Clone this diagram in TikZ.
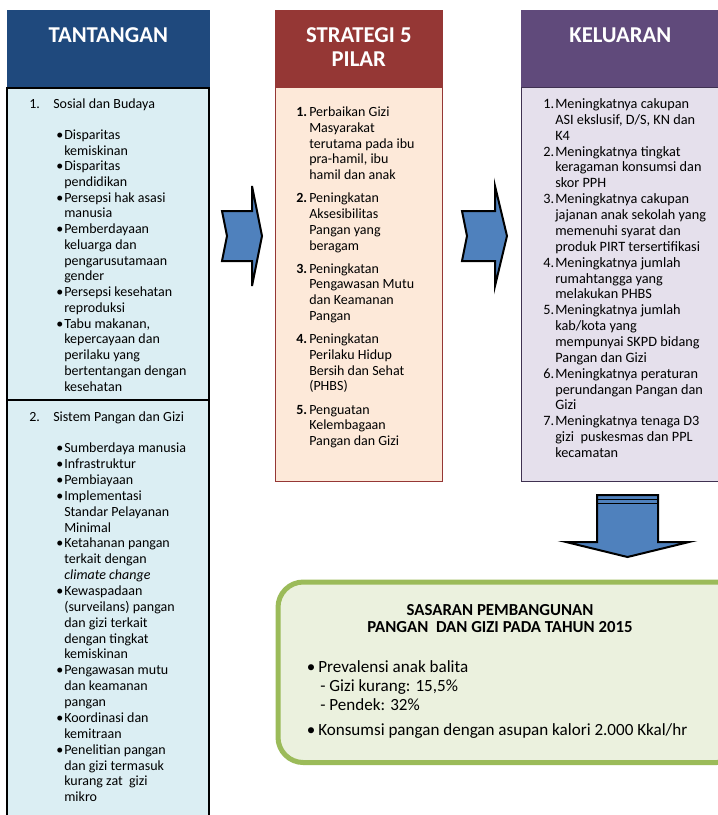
\documentclass[tikz,border=0pt]{standalone}
\usepackage{fontspec}
\setmainfont{Carlito}
\usetikzlibrary{positioning, calc}

\definecolor{tantblue}{HTML}{1F497D}
\definecolor{tantfill}{HTML}{DBEEF3}
\definecolor{stratred}{HTML}{953735}
\definecolor{stratfill}{HTML}{FDE9D9}
\definecolor{kelpurple}{HTML}{604A7B}
\definecolor{kelline}{HTML}{3F3151}
\definecolor{kelfill}{HTML}{E5E0EC}
\definecolor{sasgreen}{HTML}{9BBB59}
\definecolor{sasfill}{HTML}{EBF1DE}
\definecolor{arrblue}{HTML}{4F81BD}

\begin{document}
\begin{tikzpicture}[x=0.75pt, y=-0.75pt,
        headbox/.style={rectangle, anchor=north west, inner sep=0pt, text=white, align=center, font=\fontsize{17}{18.5}\selectfont\bfseries},
        bodybox/.style={rectangle, inner sep=0pt},
        txt/.style={anchor=base west, inner sep=0pt, font=\fontsize{10.5}{11.8}\selectfont},
        blockarr/.style={draw=black, line width=1.5pt, fill=arrblue, line join=miter},
    ]
    \useasboundingbox (0,0) rectangle (718,815);
    \clip (0,0) rectangle (718,815);

    % kolom tantangan
    \node[headbox, fill=tantblue, draw=tantblue, minimum width=151.5pt, text height=24pt, text depth=33pt] (tanthead) at (7,10) {TANTANGAN};
    \node[bodybox, draw=black, line width=1.5pt, fill=tantfill, minimum width=151.5pt, minimum height=570pt, below=0pt of tanthead] (tantbody) {};
    \draw[line width=1.5pt] (tantbody.west |- 0,400) -- (tantbody.east |- 0,400);

    \node[txt] (sosial) at (29,108.3) {\makebox[18pt][l]{1.}Sosial dan Budaya};
    \node[txt] (sosialpts) at (56,139.3) {\begin{tabular}[t]{@{}p{6pt}@{}l@{}}
        \textbullet & Disparitas\\ & kemiskinan\\
        \textbullet & Disparitas\\ & pendidikan\\
        \textbullet & Persepsi hak asasi\\ & manusia\\
        \textbullet & Pemberdayaan\\ & keluarga dan\\ & pengarusutamaan\\ & gender\\
        \textbullet & Persepsi kesehatan\\ & reproduksi\\
        \textbullet & Tabu makanan,\\ & kepercayaan dan\\ & perilaku yang\\ & bertentangan dengan\\ & kesehatan
    \end{tabular}};

    \node[txt] (sistem) at (29,421) {\makebox[18pt][l]{2.}Sistem Pangan dan Gizi};
    \node[txt, font=\fontsize{10.5}{11.9}\selectfont] (sistempts) at (56,452.7) {\begin{tabular}[t]{@{}p{6pt}@{}l@{}}
        \textbullet & Sumberdaya manusia\\
        \textbullet & Infrastruktur\\
        \textbullet & Pembiayaan\\
        \textbullet & Implementasi\\ & Standar Pelayanan\\ & Minimal\\
        \textbullet & Ketahanan pangan\\ & terkait dengan\\ & \textit{climate change}\\
        \textbullet & Kewaspadaan\\ & (surveilans) pangan\\ & dan gizi terkait\\ & dengan tingkat\\ & kemiskinan\\
        \textbullet & Pengawasan mutu\\ & dan keamanan\\ & pangan\\
        \textbullet & Koordinasi dan\\ & kemitraan\\
        \textbullet & Penelitian pangan\\ & dan gizi termasuk\\ & kurang zat\ \ gizi\\ & mikro
    \end{tabular}};

    % kolom strategi
    \node[headbox, fill=stratred, draw=stratred, minimum width=125.25pt, text height=42.5pt, text depth=14.5pt] (strathead) at (275,10) {STRATEGI 5\\PILAR};
    \node[bodybox, draw=stratred, line width=1pt, fill=stratfill, minimum width=125.25pt, minimum height=295.5pt, below=0pt of strathead] (stratbody) {};

    \node[txt] (stratlist) at (296,116.7) {\begin{tabular}[t]{@{}p{9.75pt}@{}l@{}}
        \textbf{1.} & Perbaikan Gizi\\ & Masyarakat\\ & terutama pada ibu\\ & pra-hamil, ibu\\ & hamil dan anak\\[5.6pt]
        \textbf{2.} & Peningkatan\\ & Aksesibilitas\\ & Pangan yang\\ & beragam\\[5.6pt]
        \textbf{3.} & Peningkatan\\ & Pengawasan Mutu\\ & dan Keamanan\\ & Pangan\\[5.6pt]
        \textbf{4.} & Peningkatan\\ & Perilaku Hidup\\ & Bersih dan Sehat\\ & (PHBS)\\[5.6pt]
        \textbf{5.} & Penguatan\\ & Kelembagaan\\ & Pangan dan Gizi
    \end{tabular}};

    % kolom keluaran
    \node[headbox, fill=kelpurple, draw=kelpurple, minimum width=148.5pt, text height=24pt, text depth=33pt] (kelhead) at (521,10) {KELUARAN};
    \node[bodybox, draw=kelline, line width=1pt, fill=kelfill, minimum width=148.5pt, minimum height=295.5pt, below=0pt of kelhead] (kelbody) {};

    \node[txt, font=\fontsize{10.7}{11.9}\selectfont] (kellist) at (543,108.5) {\begin{tabular}[t]{@{}p{9pt}@{}l@{}}
        1. & Meningkatnya cakupan\\ & ASI ekslusif, D/S, KN dan\\ & K4\\
        2. & Meningkatnya tingkat\\ & keragaman konsumsi dan\\ & skor PPH\\
        3. & Meningkatnya cakupan\\ & jajanan anak sekolah yang\\ & memenuhi syarat dan\\ & produk PIRT tersertifikasi\\
        4. & Meningkatnya jumlah\\ & rumahtangga yang\\ & melakukan PHBS\\
        5. & Meningkatnya jumlah\\ & kab/kota yang\\ & mempunyai SKPD bidang\\ & Pangan dan Gizi\\
        6. & Meningkatnya peraturan\\ & perundangan Pangan dan\\ & Gizi\\
        7. & Meningkatnya tenaga D3\\ & gizi\ \ puskesmas dan PPL\\ & kecamatan
    \end{tabular}};

    % sasaran
    \node[bodybox, anchor=north west, draw=sasgreen, line width=3.75pt, fill=sasfill, rounded corners=19pt, minimum width=348pt, minimum height=135.4pt] (sasaran) at (275.5,579.5) {};
    \node[inner sep=0pt, anchor=base, font=\fontsize{12.6}{13.3}\selectfont\bfseries] (sastitle) at (500,615) {\begin{tabular}[t]{@{}c@{}}
        SASARAN PEMBANGUNAN\\ PANGAN\ \ DAN GIZI PADA TAHUN 2015
    \end{tabular}};
    \node[txt, font=\fontsize{12.8}{14.25}\selectfont] (saslist) at (306.7,672.7) {\begin{tabular}[t]{@{}p{8.5pt}@{}l@{}}
        \textbullet & Prevalensi anak balita\\
        & \hspace{1.5pt}- Gizi kurang: 15,5\%\\
        & \hspace{1.5pt}- Pendek: 32\%\\[4.5pt]
        \textbullet & Konsumsi pangan dengan asupan kalori 2.000 Kkal/hr
    \end{tabular}};

    % panah
    \coordinate (arrA) at (222,211);
    \draw[blockarr] (arrA) -- ++(30,0) -- ++(0,-25) -- ++(10,50) -- ++(-10,50) -- ++(0,-25) -- ++(-30,0) -- ++(5,-25) -- cycle;
    \coordinate (arrB) at (462,211);
    \draw[blockarr] (arrB) -- ++(33,0) -- ++(0,-25) -- ++(12,50) -- ++(-12,50) -- ++(0,-25) -- ++(-33,0) -- ++(5,-25) -- cycle;
    \coordinate (arrC) at (597,495);
    \draw[blockarr] (arrC) -- ++(61,0) -- ++(0,47) -- ++(31,0) -- ++(-61.5,15) -- ++(-61.5,-15) -- ++(31,0) -- cycle;
    \draw[line width=0.8pt] ([yshift=-3.5]arrC) -- ++(61,0);
    \draw[line width=0.8pt] ([yshift=-6.5]arrC) -- ++(61,0);
\end{tikzpicture}
\end{document}
